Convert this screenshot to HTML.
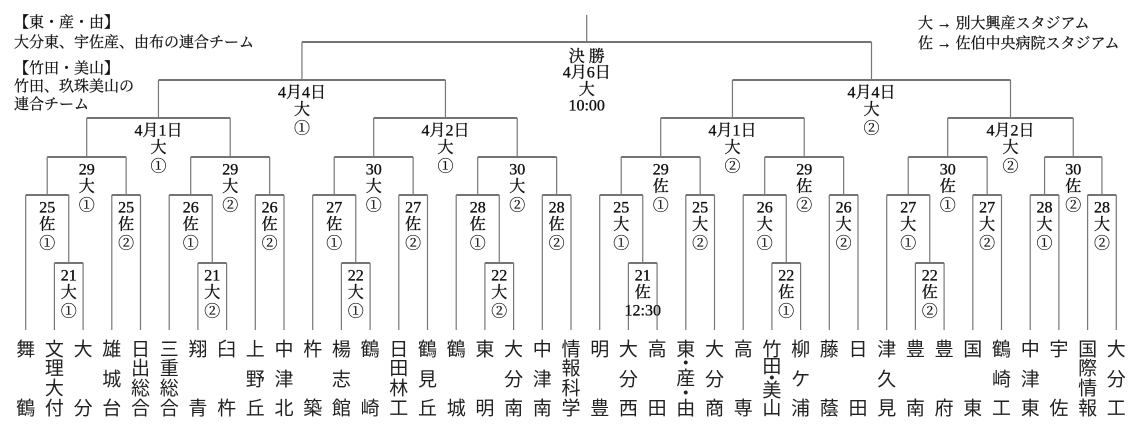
<!DOCTYPE html>
<html><head><meta charset="utf-8"><style>
html,body{margin:0;padding:0;background:#fff;}
svg{display:block;}
.l{font-family:"Liberation Serif","Noto Serif CJK SC",serif;font-size:16px;fill:#111;stroke:#111;stroke-width:0.35;text-anchor:middle;dominant-baseline:central;}
.c{font-family:"Noto Serif CJK SC",serif;font-size:16px;stroke-width:0.2;}
.t{font-family:"Noto Sans CJK JP","Liberation Sans",sans-serif;font-size:19px;fill:#222;text-anchor:middle;dominant-baseline:central;}
.n{font-family:"Liberation Serif","Noto Serif CJK SC",serif;font-size:15px;fill:#111;stroke:#111;stroke-width:0.25;}
</style></head><body>
<svg width="1140" height="431" viewBox="0 0 1140 431" xmlns="http://www.w3.org/2000/svg">
<g fill="none" stroke="#222" stroke-width="1.2">
<path d="M54.4 263H83.1M197.9 263H226.6M341.4 263H370.1M484.9 263H513.6M628.4 263H657.1M771.9 263H800.6M915.4 263H944.1
M25.7 195H68.75M111.8 195H140.5M169.2 195H212.25M255.3 195H284M312.7 195H355.75M398.8 195H427.5M456.2 195H499.25M542.3 195H571M599.7 195H642.75M685.8 195H714.5M743.2 195H786.25M829.3 195H858M886.7 195H929.75M972.8 195H1001.5M1030.2 195H1058.9M1087.6 195H1116.3
M47.2 157H126.15M190.7 157H269.65M334.2 157H413.15M477.7 157H556.65M621.2 157H700.15M764.7 157H843.65M908.2 157H987.15M1044.55 157H1101.95
M86.7 118H230.2M373.7 118H517.2M660.7 118H804.2M947.7 118H1073.25
M158.45 80H445.45M732.45 80H1010.5
M301.95 42H871.5"/>
</g>
<g fill="none" stroke="#777" stroke-width="1.2">
<path d="M25.7 195V330M54.4 263V330M83.1 263V330M111.8 195V330M140.5 195V330M169.2 195V330M197.9 263V330M226.6 263V330M255.3 195V330M284 195V330
M312.7 195V330M341.4 263V330M370.1 263V330M398.8 195V330M427.5 195V330M456.2 195V330M484.9 263V330M513.6 263V330M542.3 195V330M571 195V330
M599.7 195V330M628.4 263V330M657.1 263V330M685.8 195V330M714.5 195V330M743.2 195V330M771.9 263V330M800.6 263V330M829.3 195V330M858 195V330
M886.7 195V330M915.4 263V330M944.1 263V330M972.8 195V330M1001.5 195V330M1030.2 195V330M1058.9 195V330M1087.6 195V330M1116.3 195V330
M68.75 195V263M212.25 195V263M355.75 195V263M499.25 195V263M642.75 195V263M786.25 195V263M929.75 195V263
M47.2 157V195M126.15 157V195M190.7 157V195M269.65 157V195M334.2 157V195M413.15 157V195M477.7 157V195M556.65 157V195M621.2 157V195M700.15 157V195M764.7 157V195M843.65 157V195M908.2 157V195M987.15 157V195M1044.55 157V195M1101.95 157V195
M86.7 118V157M230.2 118V157M373.7 118V157M517.2 118V157M660.7 118V157M804.2 118V157M947.7 118V157M1073.25 118V157
M158.45 80V118M445.45 80V118M732.45 80V118M1010.5 80V118
M301.95 42V80M871.5 42V80M586.7 15V42"/>
</g>

<text class="n" x="14" y="27">【東・産・由】</text>
<text class="n" x="14" y="47">大分東、宇佐産、由布の連合チーム</text>
<text class="n" x="14" y="73">【竹田・美山】</text>
<text class="n" x="14" y="91">竹田、玖珠美山の</text>
<text class="n" x="14" y="109">連合チーム</text>
<text class="n" x="918" y="28">大 → 別大興産スタジアム</text>
<text class="n" x="918" y="48">佐 → 佐伯中央病院スタジアム</text>

<g class="l">
<text x="586.7" y="57">決 勝</text><text x="586.7" y="73">4月6日</text><text x="586.7" y="90">大</text><text x="586.7" y="106">10:00</text>
<text x="301.95" y="93">4月4日</text><text x="301.95" y="110">大</text><text class="c" x="301.95" y="127">①</text>
<text x="871.5" y="93">4月4日</text><text x="871.5" y="110">大</text><text class="c" x="871.5" y="127">②</text>
<text x="158.45" y="131">4月1日</text><text x="158.45" y="148">大</text><text class="c" x="158.45" y="165">①</text>
<text x="445.45" y="131">4月2日</text><text x="445.45" y="148">大</text><text class="c" x="445.45" y="165">①</text>
<text x="732.45" y="131">4月1日</text><text x="732.45" y="148">大</text><text class="c" x="732.45" y="165">②</text>
<text x="1010.5" y="131">4月2日</text><text x="1010.5" y="148">大</text><text class="c" x="1010.5" y="165">②</text>
<text x="86.7" y="170">29</text><text x="86.7" y="187">大</text><text class="c" x="86.7" y="204">①</text>
<text x="230.2" y="170">29</text><text x="230.2" y="187">大</text><text class="c" x="230.2" y="204">②</text>
<text x="373.7" y="170">30</text><text x="373.7" y="187">大</text><text class="c" x="373.7" y="204">①</text>
<text x="517.2" y="170">30</text><text x="517.2" y="187">大</text><text class="c" x="517.2" y="204">②</text>
<text x="660.7" y="170">29</text><text x="660.7" y="187">佐</text><text class="c" x="660.7" y="204">①</text>
<text x="804.2" y="170">29</text><text x="804.2" y="187">佐</text><text class="c" x="804.2" y="204">②</text>
<text x="947.7" y="170">30</text><text x="947.7" y="187">佐</text><text class="c" x="947.7" y="204">①</text>
<text x="1073.25" y="170">30</text><text x="1073.25" y="187">佐</text><text class="c" x="1073.25" y="204">②</text>
<text x="47.2" y="208">25</text><text x="47.2" y="225">佐</text><text class="c" x="47.2" y="242">①</text>
<text x="126.15" y="208">25</text><text x="126.15" y="225">佐</text><text class="c" x="126.15" y="242">②</text>
<text x="190.7" y="208">26</text><text x="190.7" y="225">佐</text><text class="c" x="190.7" y="242">①</text>
<text x="269.65" y="208">26</text><text x="269.65" y="225">佐</text><text class="c" x="269.65" y="242">②</text>
<text x="334.2" y="208">27</text><text x="334.2" y="225">佐</text><text class="c" x="334.2" y="242">①</text>
<text x="413.15" y="208">27</text><text x="413.15" y="225">佐</text><text class="c" x="413.15" y="242">②</text>
<text x="477.7" y="208">28</text><text x="477.7" y="225">佐</text><text class="c" x="477.7" y="242">①</text>
<text x="556.65" y="208">28</text><text x="556.65" y="225">佐</text><text class="c" x="556.65" y="242">②</text>
<text x="621.2" y="208">25</text><text x="621.2" y="225">大</text><text class="c" x="621.2" y="242">①</text>
<text x="700.15" y="208">25</text><text x="700.15" y="225">大</text><text class="c" x="700.15" y="242">②</text>
<text x="764.7" y="208">26</text><text x="764.7" y="225">大</text><text class="c" x="764.7" y="242">①</text>
<text x="843.65" y="208">26</text><text x="843.65" y="225">大</text><text class="c" x="843.65" y="242">②</text>
<text x="908.2" y="208">27</text><text x="908.2" y="225">大</text><text class="c" x="908.2" y="242">①</text>
<text x="987.15" y="208">27</text><text x="987.15" y="225">大</text><text class="c" x="987.15" y="242">②</text>
<text x="1044.55" y="208">28</text><text x="1044.55" y="225">大</text><text class="c" x="1044.55" y="242">①</text>
<text x="1101.95" y="208">28</text><text x="1101.95" y="225">大</text><text class="c" x="1101.95" y="242">②</text>
<text x="68.75" y="276">21</text><text x="68.75" y="293">大</text><text class="c" x="68.75" y="310">①</text>
<text x="212.25" y="276">21</text><text x="212.25" y="293">大</text><text class="c" x="212.25" y="310">②</text>
<text x="355.75" y="276">22</text><text x="355.75" y="293">大</text><text class="c" x="355.75" y="310">①</text>
<text x="499.25" y="276">22</text><text x="499.25" y="293">大</text><text class="c" x="499.25" y="310">②</text>
<text x="642.75" y="276">21</text><text x="642.75" y="293">佐</text><text x="642.75" y="311">12:30</text>
<text x="786.25" y="276">22</text><text x="786.25" y="293">佐</text><text class="c" x="786.25" y="310">①</text>
<text x="929.75" y="276">22</text><text x="929.75" y="293">佐</text><text class="c" x="929.75" y="310">②</text>
</g>

<g class="t">
<text x="25.7" y="348">舞</text><text x="25.7" y="407">鶴</text>
<text x="54.4" y="348">文</text><text x="54.4" y="367">理</text><text x="54.4" y="387">大</text><text x="54.4" y="407">付</text>
<text x="83.1" y="348">大</text><text x="83.1" y="407">分</text>
<text x="111.8" y="348">雄</text><text x="111.8" y="378">城</text><text x="111.8" y="407">台</text>
<text x="140.5" y="348">日</text><text x="140.5" y="367">出</text><text x="140.5" y="387">総</text><text x="140.5" y="407">合</text>
<text x="169.2" y="348">三</text><text x="169.2" y="367">重</text><text x="169.2" y="387">総</text><text x="169.2" y="407">合</text>
<text x="197.9" y="348">翔</text><text x="197.9" y="407">青</text>
<text x="226.6" y="348">臼</text><text x="226.6" y="407">杵</text>
<text x="255.3" y="348">上</text><text x="255.3" y="378">野</text><text x="255.3" y="407">丘</text>
<text x="284" y="348">中</text><text x="284" y="378">津</text><text x="284" y="407">北</text>
<text x="312.7" y="348">杵</text><text x="312.7" y="407">築</text>
<text x="341.4" y="348">楊</text><text x="341.4" y="378">志</text><text x="341.4" y="407">館</text>
<text x="370.1" y="348">鶴</text><text x="370.1" y="407">崎</text>
<text x="398.8" y="348">日</text><text x="398.8" y="367">田</text><text x="398.8" y="387">林</text><text x="398.8" y="407">工</text>
<text x="427.5" y="348">鶴</text><text x="427.5" y="378">見</text><text x="427.5" y="407">丘</text>
<text x="456.2" y="348">鶴</text><text x="456.2" y="407">城</text>
<text x="484.9" y="348">東</text><text x="484.9" y="407">明</text>
<text x="513.6" y="348">大</text><text x="513.6" y="378">分</text><text x="513.6" y="407">南</text>
<text x="542.3" y="348">中</text><text x="542.3" y="378">津</text><text x="542.3" y="407">南</text>
<text x="571" y="348">情</text><text x="571" y="367">報</text><text x="571" y="387">科</text><text x="571" y="407">学</text>
<text x="599.7" y="348">明</text><text x="599.7" y="407">豊</text>
<text x="628.4" y="348">大</text><text x="628.4" y="378">分</text><text x="628.4" y="407">西</text>
<text x="657.1" y="348">高</text><text x="657.1" y="407">田</text>
<text x="685.8" y="348">東</text><text x="685.8" y="362">・</text><text x="685.8" y="377">産</text><text x="685.8" y="392">・</text><text x="685.8" y="407">由</text>
<text x="714.5" y="348">大</text><text x="714.5" y="378">分</text><text x="714.5" y="407">商</text>
<text x="743.2" y="348">高</text><text x="743.2" y="407">専</text>
<text x="771.9" y="348">竹</text><text x="771.9" y="365">田</text><text x="771.9" y="377">・</text><text x="771.9" y="389">美</text><text x="771.9" y="407">山</text>
<text x="800.6" y="348">柳</text><text x="800.6" y="378">ケ</text><text x="800.6" y="407">浦</text>
<text x="829.3" y="348">藤</text><text x="829.3" y="407">蔭</text>
<text x="858" y="348">日</text><text x="858" y="407">田</text>
<text x="886.7" y="348">津</text><text x="886.7" y="378">久</text><text x="886.7" y="407">見</text>
<text x="915.4" y="348">豊</text><text x="915.4" y="407">南</text>
<text x="944.1" y="348">豊</text><text x="944.1" y="407">府</text>
<text x="972.8" y="348">国</text><text x="972.8" y="407">東</text>
<text x="1001.5" y="348">鶴</text><text x="1001.5" y="378">崎</text><text x="1001.5" y="407">工</text>
<text x="1030.2" y="348">中</text><text x="1030.2" y="378">津</text><text x="1030.2" y="407">東</text>
<text x="1058.9" y="348">宇</text><text x="1058.9" y="407">佐</text>
<text x="1087.6" y="348">国</text><text x="1087.6" y="367">際</text><text x="1087.6" y="387">情</text><text x="1087.6" y="407">報</text>
<text x="1116.3" y="348">大</text><text x="1116.3" y="378">分</text><text x="1116.3" y="407">工</text>
</g>
</svg>
</body></html>
